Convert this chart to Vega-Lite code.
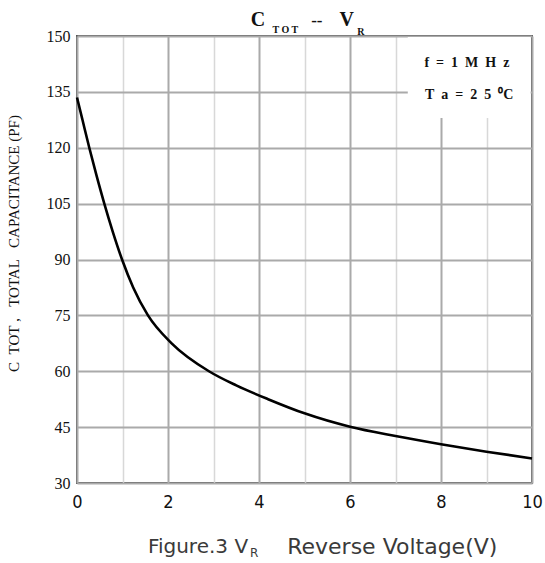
{
  "$schema": "https://vega.github.io/schema/vega-lite/v6.json",
  "width": 455,
  "height": 447,
  "autosize": {"type": "none"},
  "padding": {"left": 77, "top": 36, "right": 13, "bottom": 80},
  "background": "white",
  "config": {"view": {"stroke": "#555555", "strokeWidth": 2}},
  "data": {
    "values": [
      {"vr": 0, "c": 133.5},
      {"vr": 0.12, "c": 127.5},
      {"vr": 0.27, "c": 120},
      {"vr": 0.43, "c": 112.5},
      {"vr": 0.6, "c": 105},
      {"vr": 0.785, "c": 97.5},
      {"vr": 0.99, "c": 90},
      {"vr": 1.235, "c": 82.5},
      {"vr": 1.56, "c": 75},
      {"vr": 2.08, "c": 67.5},
      {"vr": 2.9, "c": 60},
      {"vr": 3.5, "c": 56.2},
      {"vr": 4.2, "c": 52.5},
      {"vr": 5, "c": 48.7},
      {"vr": 6, "c": 45.1},
      {"vr": 7, "c": 42.6},
      {"vr": 8, "c": 40.4},
      {"vr": 9, "c": 38.4},
      {"vr": 10, "c": 36.6}
    ]
  },
  "layer": [
    {
      "mark": {"type": "line", "stroke": "black", "strokeWidth": 2.6, "interpolate": "monotone"},
      "encoding": {
        "x": {
          "field": "vr", "type": "quantitative",
          "scale": {"domain": [0, 10], "nice": false},
          "axis": {
            "title": null,
            "values": [0, 1, 2, 3, 4, 5, 6, 7, 8, 9, 10],
            "labelExpr": "datum.value % 2 === 0 ? datum.label : ''",
            "grid": true,
            "gridColor": {"condition": {"test": "datum.value % 2 === 0", "value": "#aaaaaa"}, "value": "#d8d8d8"},
            "gridWidth": {"condition": {"test": "datum.value % 2 === 0", "value": 2}, "value": 1.5},
            "ticks": false,
            "domain": false,
            "labelFont": "Liberation Sans Narrow, DejaVu Sans Condensed, sans-serif",
            "labelFontSize": 18,
            "labelColor": "#111111",
            "labelPadding": 10,
            "labelFlush": false
          }
        },
        "y": {
          "field": "c", "type": "quantitative",
          "scale": {"domain": [30, 150], "nice": false, "zero": false},
          "axis": {
            "title": "C\u00a0\u00a0TOT\u00a0,\u00a0\u00a0\u00a0TOTAL\u00a0\u00a0\u00a0CAPACITANCE\u00a0(PF)",
            "titleFont": "Liberation Serif",
            "titleFontSize": 15,
            "titleFontWeight": "normal",
            "titleColor": "#111111",
            "titleX": -56,
            "titleY": 207,
            "values": [30, 37.5, 45, 52.5, 60, 67.5, 75, 82.5, 90, 97.5, 105, 112.5, 120, 127.5, 135, 142.5, 150],
            "labelExpr": "datum.value % 15 === 0 ? datum.label : ''",
            "grid": true,
            "gridColor": {"condition": {"test": "datum.value % 15 === 0", "value": "#aaaaaa"}, "value": "#d8d8d8"},
            "gridWidth": {"condition": {"test": "datum.value % 15 === 0", "value": 2}, "value": 1.5},
            "ticks": false,
            "domain": false,
            "labelFont": "Liberation Serif",
            "labelFontSize": 16,
            "labelColor": "#111111",
            "labelPadding": 7,
            "labelFlush": false
          }
        }
      }
    },
    {
      "data": {"values": [{}]},
      "mark": {"type": "rect", "fill": "white"},
      "encoding": {
        "x": {"datum": 7.27},
        "x2": {"datum": 9.97},
        "y": {"datum": 149.75},
        "y2": {"datum": 128}
      }
    },
    {
      "data": {"values": [{}]},
      "mark": {"type": "text", "text": "f\u2002=\u20021\u2002M\u2002H\u2002z", "font": "Liberation Serif", "fontSize": 14, "fontWeight": "bold", "baseline": "middle", "align": "center", "color": "#111111"},
      "encoding": {"x": {"datum": 8.57}, "y": {"datum": 142.7}}
    },
    {
      "data": {"values": [{}]},
      "mark": {"type": "text", "text": "T\u2002a\u2002=\u20022\u20025\u2002⁰C", "font": "Liberation Serif", "fontSize": 14, "fontWeight": "bold", "baseline": "middle", "align": "center", "color": "#111111"},
      "encoding": {"x": {"datum": 8.62}, "y": {"datum": 134.2}}
    },
    {
      "data": {"values": [{}]},
      "mark": {"type": "text", "text": "C", "font": "Liberation Serif", "fontSize": 20, "fontWeight": "bold", "baseline": "middle", "align": "center", "dy": -16, "color": "#111111"},
      "encoding": {"x": {"datum": 3.98}, "y": {"datum": 150}}
    },
    {
      "data": {"values": [{}]},
      "mark": {"type": "text", "text": "T O T", "font": "Liberation Serif", "fontSize": 10, "fontWeight": "bold", "baseline": "middle", "align": "center", "dy": -6, "color": "#111111"},
      "encoding": {"x": {"datum": 4.58}, "y": {"datum": 150}}
    },
    {
      "data": {"values": [{}]},
      "mark": {"type": "text", "text": "--", "font": "Liberation Serif", "fontSize": 17, "fontWeight": "bold", "baseline": "middle", "align": "center", "dy": -15, "color": "#111111"},
      "encoding": {"x": {"datum": 5.27}, "y": {"datum": 150}}
    },
    {
      "data": {"values": [{}]},
      "mark": {"type": "text", "text": "V", "font": "Liberation Serif", "fontSize": 20, "fontWeight": "bold", "baseline": "middle", "align": "center", "dy": -16, "color": "#111111"},
      "encoding": {"x": {"datum": 5.93}, "y": {"datum": 150}}
    },
    {
      "data": {"values": [{}]},
      "mark": {"type": "text", "text": "R", "font": "Liberation Serif", "fontSize": 10, "fontWeight": "bold", "baseline": "middle", "align": "center", "dy": -4, "color": "#111111"},
      "encoding": {"x": {"datum": 6.24}, "y": {"datum": 150}}
    },
    {
      "data": {"values": [{}]},
      "mark": {"type": "text", "text": "Figure.3 V", "font": "DejaVu Sans", "fontSize": 20, "baseline": "middle", "align": "right", "dy": 64, "color": "#3a3a3a"},
      "encoding": {"x": {"datum": 3.76}, "y": {"datum": 30}}
    },
    {
      "data": {"values": [{}]},
      "mark": {"type": "text", "text": "R", "font": "DejaVu Sans", "fontSize": 12, "baseline": "middle", "align": "left", "dy": 70, "color": "#3a3a3a"},
      "encoding": {"x": {"datum": 3.80}, "y": {"datum": 30}}
    },
    {
      "data": {"values": [{}]},
      "mark": {"type": "text", "text": "Reverse Voltage(V)", "font": "DejaVu Sans", "fontSize": 22, "baseline": "middle", "align": "left", "dy": 64, "color": "#3a3a3a"},
      "encoding": {"x": {"datum": 4.62}, "y": {"datum": 30}}
    }
  ]
}
